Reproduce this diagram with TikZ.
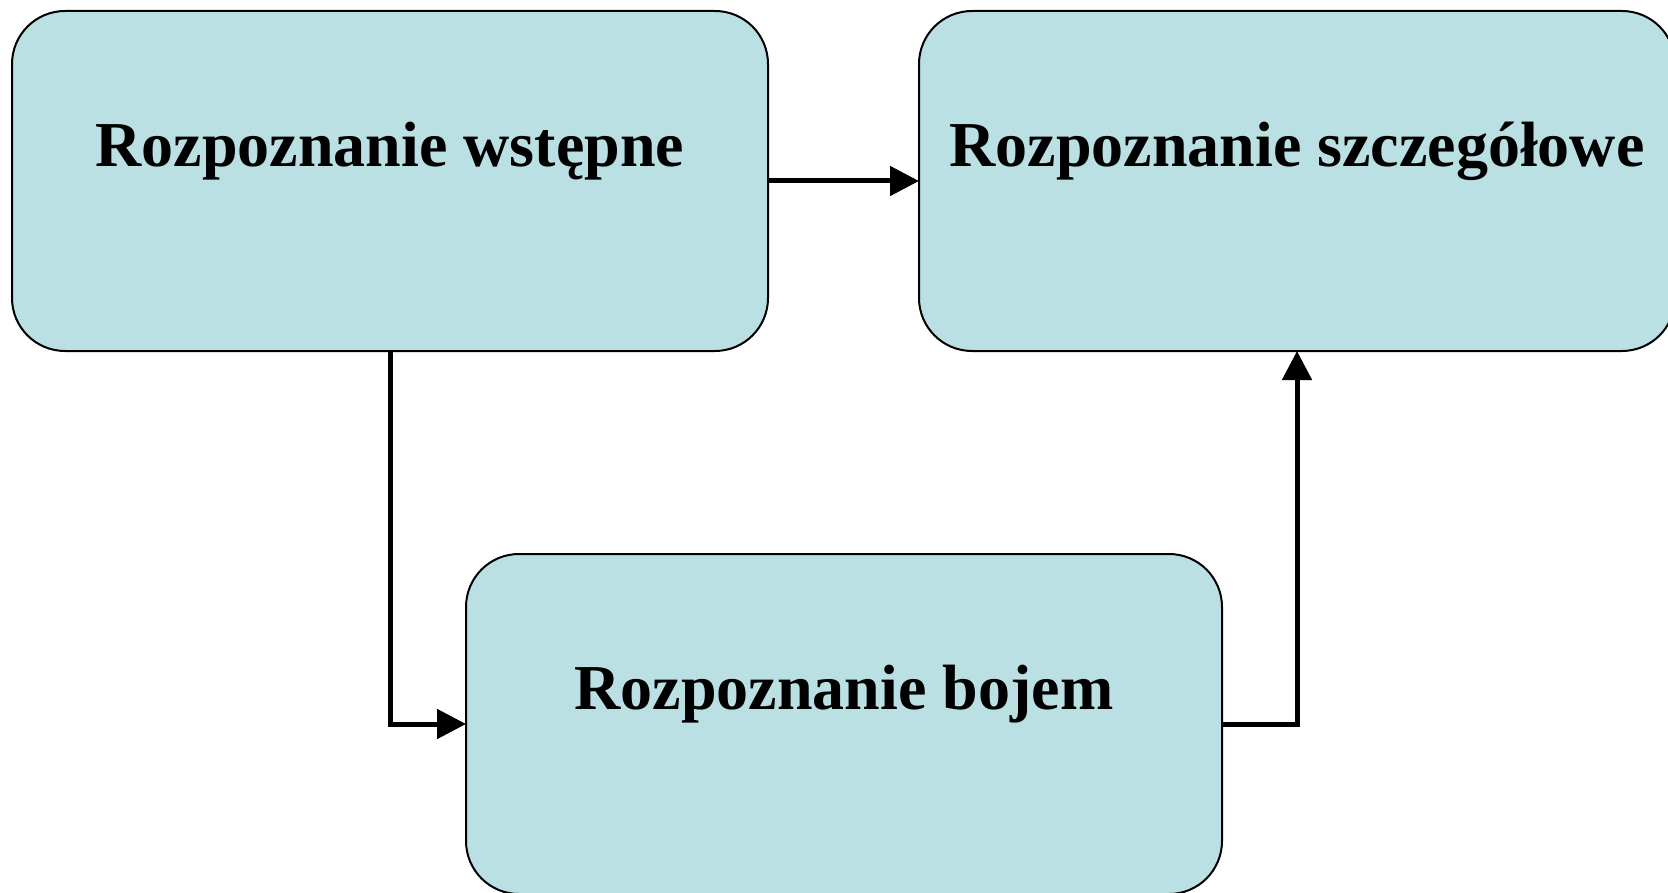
\documentclass[tikz,border=0pt]{standalone}
\usepackage{fontspec}
\setmainfont{Liberation Serif}
\usetikzlibrary{arrows.meta}
\definecolor{boxfill}{RGB}{186,224,227}
\tikzset{
  box/.style={draw=black, line width=2pt, fill=boxfill, rounded corners=53pt,
    minimum width=756pt, minimum height=340pt, inner sep=0pt, outer sep=0pt},
  lbl/.style={font=\fontsize{64}{76}\selectfont\bfseries, inner sep=0pt, anchor=base},
  arr/.style={line width=5pt, -{Triangle[length=29pt,width=29pt]}}
}
\begin{document}
\begin{tikzpicture}[x=1pt,y=-1pt]
\useasboundingbox (0,0) rectangle (1668,893);
\clip (0,0) rectangle (1668,893);
\node[box] (A) at (390,181) {};
\node[box] (B) at (1297,181) {};
\node[box] (C) at (844,724) {};
\node[lbl] (At) at (390,167) {Rozpoznanie wstępne};
\node[lbl] (Bt) at (1297,167) {Rozpoznanie szczegółowe};
\node[lbl] (Ct) at (844,709) {Rozpoznanie bojem};
\draw[arr] (A.east) -- (B.west);
\draw[arr] (A.south) |- (C.west);
\draw[arr] (C.east) -| (B.south);
\end{tikzpicture}
\end{document}
